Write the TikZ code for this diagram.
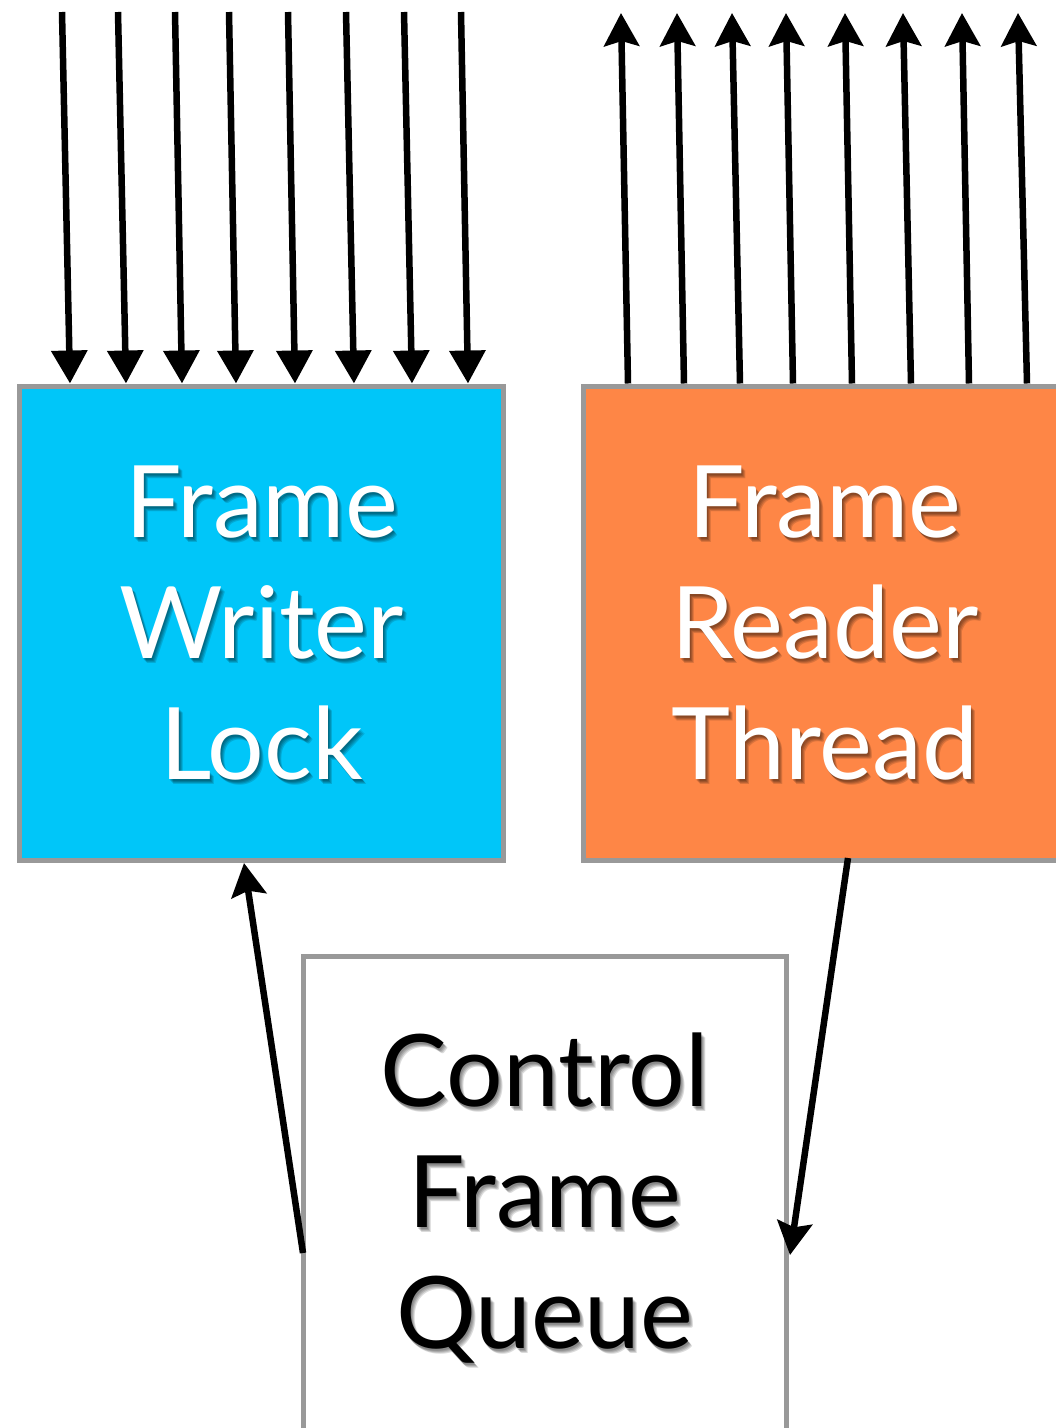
\documentclass[tikz,border=0pt]{standalone}
\usepackage{fontspec}
\setmainfont{Lato}
\usetikzlibrary{arrows.meta,calc}
\definecolor{lockblue}{HTML}{00C6F9}
\definecolor{readerorange}{HTML}{FE8646}
\definecolor{edgegray}{HTML}{999999}
\begin{document}
\begin{tikzpicture}[x=1pt,y=-1pt,
  box/.style={draw=edgegray, line width=5pt, minimum width=484pt,
    minimum height=474.5pt, inner sep=0pt, anchor=north west},
  caption/.style={font=\fontsize{100}{121}\selectfont, align=center, inner sep=0pt},
  shade/.style={caption, text=black, text opacity=0.14},
  feed/.style={line width=6.5pt, -{Triangle[length=33pt,width=35pt]}},
  link/.style={line width=6.5pt, -{Stealth[length=33pt,width=35pt,inset=5pt]}}
]
\useasboundingbox (0,0) rectangle (1056,1428);
\begin{scope}
\clip (0,0) rectangle (1056,1428);

% the three boxes
\node[box, fill=lockblue] (wl) at (17,383.5) {};
\node[box, fill=readerorange] (rt) at (580.5,383.5) {};
\node[box, fill=white, minimum width=483pt, minimum height=477pt] (cq) at (300.5,954) {};

% soft drop shadows behind the captions
\foreach \dx/\dy in {1/2,2/3,3/4,4/5}{
  \node[shade] at ($(wl.center)+(\dx,\dy)$) {Frame\\Writer\\Lock};
  \node[shade] at ($(rt.center)+(\dx,\dy)$) {Frame\\Reader\\Thread};
  \node[shade] at ($(cq.center)+(\dx,3+\dy)$) {Control\\Frame\\Queue};
}

% captions
\node[caption, text=white] (wlt) at (wl.center) {Frame\\Writer\\Lock};
\node[caption, text=white] (rtt) at (rt.center) {Frame\\Reader\\Thread};
\node[caption, text=black] (cqt) at ($(cq.center)+(0,3)$) {Control\\Frame\\Queue};

% writers entering the lock
\foreach \i/\xa/\xb in {1/62/70,2/118/126,3/175/182,4/229/236,5/288/295,6/346/354,7/404/412,8/461/468}{
  \coordinate (w\i) at (\xa,12);
  \draw[feed] (w\i) -- (\xb,0 |- wl.north);
}

% readers leaving the reader thread
\foreach \i/\xa/\xb in {1/628/621,2/684/677,3/740/732,4/793/786,5/852/845,6/911/903,7/969/962,8/1027/1018}{
  \coordinate (r\i) at (\xb,13);
  \draw[link] (\xa,0 |- rt.north) -- (r\i);
}

% queue feedback loop
\coordinate (qout) at (303,1253);
\draw[link] (qout) -- (244,0 |- wl.south);
\coordinate (rout) at (848,858);
\coordinate (qin) at (790,1255);
\draw[link] (rout) -- (qin);
\end{scope}
\end{tikzpicture}
\end{document}
